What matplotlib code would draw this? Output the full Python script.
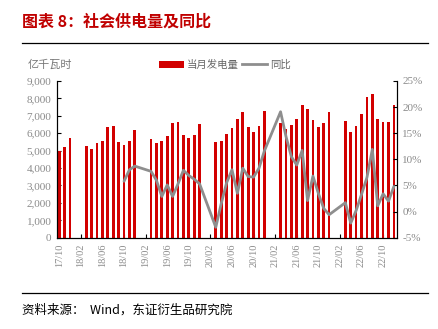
import numpy as np
import matplotlib
matplotlib.use("Agg")
import matplotlib.pyplot as plt
from matplotlib.patches import Patch
from matplotlib.lines import Line2D

plt.rcParams['font.family'] = ['Noto Sans CJK SC', 'DejaVu Sans']

# months 2017/10 .. 2022/12, Jan/Feb have no monthly value
months = ["17/10", "17/11", "17/12"]
for yy in range(18, 23):
    months += ["{}/{:02d}".format(yy, m) for m in range(1, 13)]

nan = np.nan
power = [5000, 5190, 5710,
         nan, nan, 5270, 5100, 5460, 5560, 6380, 6390, 5500, 5310, 5560, 6190,
         nan, nan, 5690, 5460, 5570, 5840, 6570, 6670, 5900, 5710, 5900, 6550,
         nan, nan, 5520, 5560, 5940, 6280, 6800, 7240, 6340, 6090, 6420, 7260,
         nan, nan, 6570, 6230, 6490, 6840, 7590, 7390, 6760, 6380, 6570, 7240,
         nan, nan, 6700, 6090, 6420, 7110, 8050, 8260, 6840, 6630, 6670, 7590]

yoy = [nan, nan, nan,
       nan, nan, nan, nan, nan, nan, nan, nan, nan, 5.8, 8.0, 8.7,
       nan, nan, 7.7, 6.0, 2.9, 5.1, 2.9, 5.3, 7.9, 6.9, 6.2, 5.3,
       nan, nan, -3.0, 1.5, 5.5, 8.0, 3.5, 8.3, 6.7, 6.6, 8.3, 11.6,
       nan, nan, 19.1, 14.4, 10.5, 8.9, 11.7, 2.1, 6.8, 3.5, 0.6, -0.6,
       nan, nan, 1.7, -2.2, 0.2, 3.3, 6.5, 11.9, 1.1, 3.4, 2.0, 4.8]

tick_labels = months[::4]

red = "#D20000"
gray_line = "#8E8E8E"
label_gray = "#8A8A8A"

fig = plt.figure(figsize=(4.38, 3.29), dpi=100)
ax = fig.add_axes([0.130, 0.2775, 0.776, 0.4765])

x = np.arange(len(months))
ax.bar(x, power, width=0.5, color=red, zorder=2)
ax.set_xlim(-0.43, len(months) - 0.46)
ax.set_ylim(0, 9000)
ax.set_yticks(range(0, 9001, 1000))
ax.set_yticklabels(["{:,}".format(v) for v in range(0, 9001, 1000)],
                   family="Liberation Serif", fontsize=8, color=label_gray)
ax.set_xticks(x[::4])
ax.set_xticklabels(tick_labels, rotation=90, family="Liberation Serif",
                   fontsize=7.5, color=label_gray)
ax.tick_params(direction="in", length=3, width=0.8, pad=4)
ax.spines["top"].set_visible(False)

ax2 = ax.twinx()
yoy_arr = np.array(yoy)
ok = ~np.isnan(yoy_arr)
ax2.plot(x[ok], yoy_arr[ok], color=gray_line, lw=2.0, solid_joinstyle="round",
         solid_capstyle="round", zorder=3)
ax2.set_ylim(-5, 25)
ax2.set_yticks(range(-5, 26, 5))
ax2.set_yticklabels(["{}%".format(v) for v in range(-5, 26, 5)],
                    family="Liberation Serif", fontsize=8, color=label_gray)
ax2.tick_params(direction="in", length=3, width=0.8, pad=4)
ax2.spines["top"].set_visible(False)

# header / footer
fig.text(22 / 438, 1 - 22 / 329, "图表 8：社会供电量及同比", color="#C00000",
         fontsize=11.5, fontweight="bold", va="center", ha="left")
fig.add_artist(Line2D([22 / 438, 428 / 438], [1 - 43 / 329, 1 - 43 / 329],
                      color="black", lw=0.9))
fig.text(28 / 438, 1 - 65 / 329, "亿千瓦时", color="#777777", fontsize=8,
         va="center", ha="left")

handles = [Patch(facecolor=red, edgecolor="none"),
           Line2D([0], [0], color=gray_line, lw=2.0)]
fig.legend(handles, ["当月发电量", "同比"], loc="center",
           bbox_to_anchor=(225 / 438, 1 - 65 / 329), ncol=2, frameon=False,
           fontsize=7.5, handlelength=2.4, handleheight=0.7, columnspacing=0.3,
           handletextpad=0.3, labelcolor="#666666")

fig.add_artist(Line2D([22 / 438, 428 / 438], [1 - 293 / 329, 1 - 293 / 329],
                      color="black", lw=0.9))
fig.text(22 / 438, 1 - 310 / 329, "资料来源：  Wind，东证衍生品研究院",
         color="black", fontsize=9, va="center", ha="left")

fig.savefig("out.png", dpi=100)
